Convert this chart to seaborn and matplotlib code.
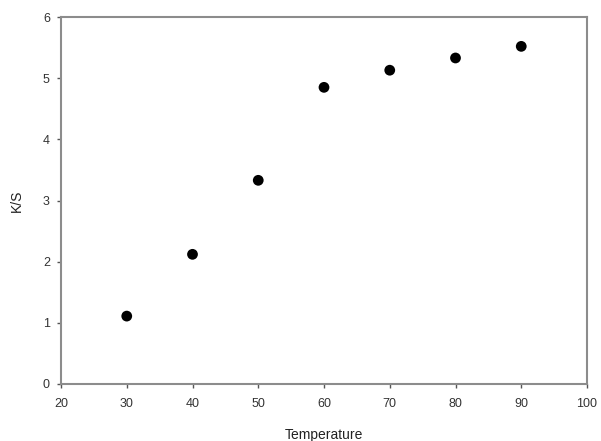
import numpy as np
import pandas as pd
import matplotlib
matplotlib.use("Agg")
import matplotlib.pyplot as plt
import seaborn as sns

temperature = [30, 40, 50, 60, 70, 80, 90]
ks_values = [1.11, 2.12, 3.33, 4.85, 5.13, 5.33, 5.52]

df = pd.DataFrame({"Temperature": temperature, "K/S": ks_values})

sns.set_style("white")
plt.rcParams['font.family'] = ['Liberation Sans', 'DejaVu Sans']

fig = plt.figure(figsize=(6.01, 4.41), dpi=100)
ax = fig.add_axes([61 / 601, 57 / 441, 526 / 601, 367 / 441])

sns.scatterplot(data=df, x="Temperature", y="K/S", ax=ax, color="black",
                s=60, edgecolor="none", zorder=3)

ax.set_xlim(20, 100)
ax.set_ylim(0, 6)
ax.set_xticks(range(20, 101, 10))
ax.set_yticks(range(0, 7))

for side in ["left", "right", "top", "bottom"]:
    ax.spines[side].set_visible(True)
    ax.spines[side].set_color("#8c8c8c")
    ax.spines[side].set_linewidth(1.5)

ax.tick_params(axis="both", direction="out", length=3, width=1,
               color="#555555", labelsize=9, labelcolor="#333333")
ax.tick_params(axis="x", pad=7)
ax.tick_params(axis="y", pad=5)
ax.tick_params(left=True, bottom=True)

ax.set_xlabel("Temperature", fontsize=10, color="#222222", labelpad=13)
ax.set_ylabel("K/S", fontsize=10, color="#222222", labelpad=14)

fig.savefig("out.png", dpi=100)
